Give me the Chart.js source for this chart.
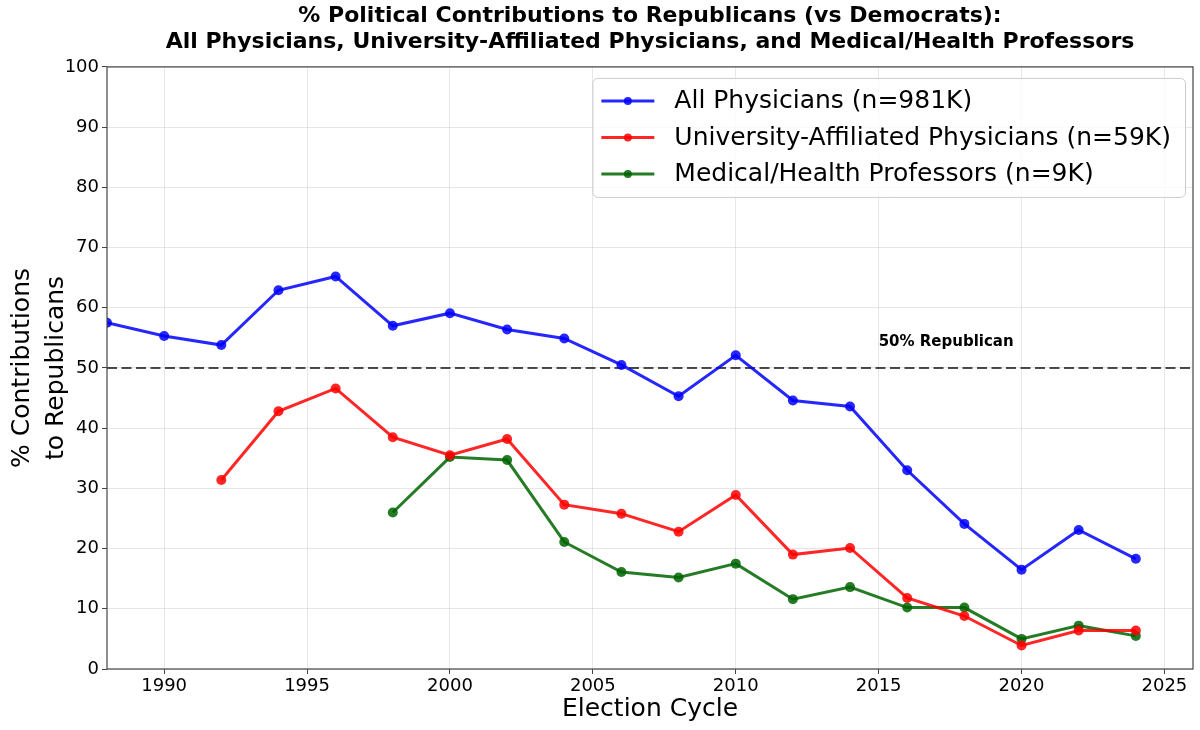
<!DOCTYPE html>
<html>
<head>
<meta charset="utf-8">
<script src="https://cdn.jsdelivr.net/npm/chart.js@4.4.0/dist/chart.umd.min.js"></script>
<style>
  html, body { margin: 0; padding: 0; background: #fff; }
</style>
</head>
<body>
<canvas id="chart" width="1200" height="730"></canvas>
<script>
// Election cycles and % of contributions going to Republicans
const years = [1988, 1990, 1992, 1994, 1996, 1998, 2000, 2002, 2004, 2006, 2008, 2010, 2012, 2014, 2016, 2018, 2020, 2022, 2024];
const allPhysicians = [57.5, 55.3, 53.8, 62.9, 65.2, 57.0, 59.1, 56.4, 54.9, 50.5, 45.3, 52.1, 44.6, 43.6, 33.0, 24.1, 16.5, 23.1, 18.3];
const univPhysicians = [null, null, 31.4, 42.8, 46.6, 38.5, 35.5, 38.2, 27.3, 25.8, 22.8, 28.9, 19.0, 20.1, 11.8, 8.8, 3.9, 6.4, 6.4];
const medProfessors = [null, null, null, null, null, 26.0, 35.2, 34.7, 21.1, 16.1, 15.2, 17.5, 11.6, 13.6, 10.2, 10.2, 5.0, 7.2, 5.5];

const seriesLabels = ['All Physicians (n=981K)', 'University-Affiliated Physicians (n=59K)', 'Medical/Health Professors (n=9K)'];
const xTicks = [1990, 1995, 2000, 2005, 2010, 2015, 2020, 2025];
const referenceValue = 50;
const referenceLabel = '50% Republican';
const referenceLabelAt = [2015, 53];

const FONT = '"DejaVu Sans", "Liberation Sans", sans-serif';
const colors = ['rgba(0,0,255,0.85)', 'rgba(255,0,0,0.85)', 'rgba(0,100,0,0.85)'];

function toPoints(vals) {
  return years.map((yr, i) => ({ x: yr, y: vals[i] }));
}

function lineSet(label, vals, color) {
  return {
    label: label,
    data: toPoints(vals),
    borderColor: color,
    backgroundColor: color,
    borderWidth: 3,
    pointRadius: 5,
    pointBorderWidth: 0,
    pointHoverRadius: 5,
    tension: 0,
    spanGaps: false,
    clip: 0
  };
}

// dashed 50% line, frame, annotation, legend
const extras = {
  id: 'extras',
  beforeDatasetsDraw(chart) {
    const { ctx, chartArea: a, scales: { y } } = chart;
    const py = y.getPixelForValue(referenceValue);
    ctx.save();
    ctx.strokeStyle = 'rgba(0,0,0,0.7)';
    ctx.lineWidth = 2;
    ctx.setLineDash([10, 4.5]);
    ctx.beginPath();
    ctx.moveTo(a.left, py);
    ctx.lineTo(a.right, py);
    ctx.stroke();
    ctx.restore();
  },
  afterDraw(chart) {
    const { ctx, chartArea: a, scales: { x, y } } = chart;
    ctx.save();

    // frame
    ctx.strokeStyle = '#444';
    ctx.lineWidth = 1.2;
    ctx.strokeRect(a.left, a.top, a.right - a.left, a.bottom - a.top);

    // annotation
    ctx.fillStyle = '#000';
    ctx.font = 'bold 15px ' + FONT;
    ctx.textAlign = 'left';
    ctx.textBaseline = 'bottom';
    ctx.fillText(referenceLabel, x.getPixelForValue(referenceLabelAt[0]), y.getPixelForValue(referenceLabelAt[1]));

    // legend (upper right)
    ctx.font = '25px ' + FONT;
    const maxW = Math.max(...seriesLabels.map(s => ctx.measureText(s).width));
    const boxRight = a.right - 8;
    const boxTop = a.top + 11;
    const boxW = 9 + 53 + 20 + maxW + 14;
    const boxH = 119;
    const boxLeft = boxRight - boxW;
    ctx.beginPath();
    ctx.roundRect(boxLeft + 0.5, boxTop + 0.5, boxW, boxH, 5);
    ctx.fillStyle = 'rgba(255,255,255,0.8)';
    ctx.fill();
    ctx.strokeStyle = '#cccccc';
    ctx.lineWidth = 1;
    ctx.stroke();

    ctx.textBaseline = 'middle';
    chart.data.datasets.forEach((ds, i) => {
      const cy = boxTop + 23 + i * 36.5;
      const hx0 = boxLeft + 9, hx1 = hx0 + 53;
      ctx.strokeStyle = ds.borderColor;
      ctx.lineWidth = 3;
      ctx.beginPath();
      ctx.moveTo(hx0, cy);
      ctx.lineTo(hx1, cy);
      ctx.stroke();
      ctx.fillStyle = ds.borderColor;
      ctx.beginPath();
      ctx.arc((hx0 + hx1) / 2, cy, 4, 0, Math.PI * 2);
      ctx.fill();
      ctx.fillStyle = '#000';
      ctx.fillText(ds.label, hx1 + 20, cy + 1);
    });

    ctx.restore();
  }
};

new Chart(document.getElementById('chart').getContext('2d'), {
  type: 'line',
  data: {
    datasets: [
      lineSet(seriesLabels[0], allPhysicians, colors[0]),
      lineSet(seriesLabels[1], univPhysicians, colors[1]),
      lineSet(seriesLabels[2], medProfessors, colors[2])
    ]
  },
  options: {
    responsive: false,
    animation: false,
    layout: { padding: { top: 1, right: 7, left: 0, bottom: 0 } },
    plugins: {
      legend: { display: false },
      tooltip: { enabled: false },
      title: {
        display: true,
        fullSize: false,
        text: ['% Political Contributions to Republicans (vs Democrats):',
               'All Physicians, University-Affiliated Physicians, and Medical/Health Professors'],
        color: '#000',
        font: { family: FONT, size: 22, weight: 'bold', lineHeight: 1.18 },
        padding: { top: 2, bottom: 12 }
      }
    },
    scales: {
      x: {
        type: 'linear',
        min: 1988,
        max: 2026,
        afterBuildTicks(scale) { scale.ticks = xTicks.map(v => ({ value: v })); },
        afterFit(scale) { scale.height = 61; },
        grid: { color: 'rgba(176,176,176,0.3)', tickColor: '#444', tickLength: 5, drawOnChartArea: true },
        border: { display: false },
        ticks: {
          color: '#000', font: { family: FONT, size: 18 }, padding: 2, maxRotation: 0, autoSkip: false,
          callback: v => String(v)
        },
        title: {
          display: true,
          text: 'Election Cycle',
          color: '#000',
          font: { family: FONT, size: 25, lineHeight: 1.2 },
          padding: { top: 0, bottom: 6 }
        }
      },
      y: {
        min: 0,
        max: 100,
        ticks: { stepSize: 10, color: '#000', font: { family: FONT, size: 18 }, padding: 3 },
        afterFit(scale) { scale.width = 107; },
        grid: { color: 'rgba(176,176,176,0.3)', tickColor: '#444', tickLength: 5 },
        border: { display: false },
        title: {
          display: true,
          text: ['% Contributions', 'to Republicans'],
          color: '#000',
          font: { family: FONT, size: 25, lineHeight: 1.35 },
          padding: { top: 6, bottom: 0 }
        }
      }
    }
  },
  plugins: [extras]
});
</script>
</body>
</html>
